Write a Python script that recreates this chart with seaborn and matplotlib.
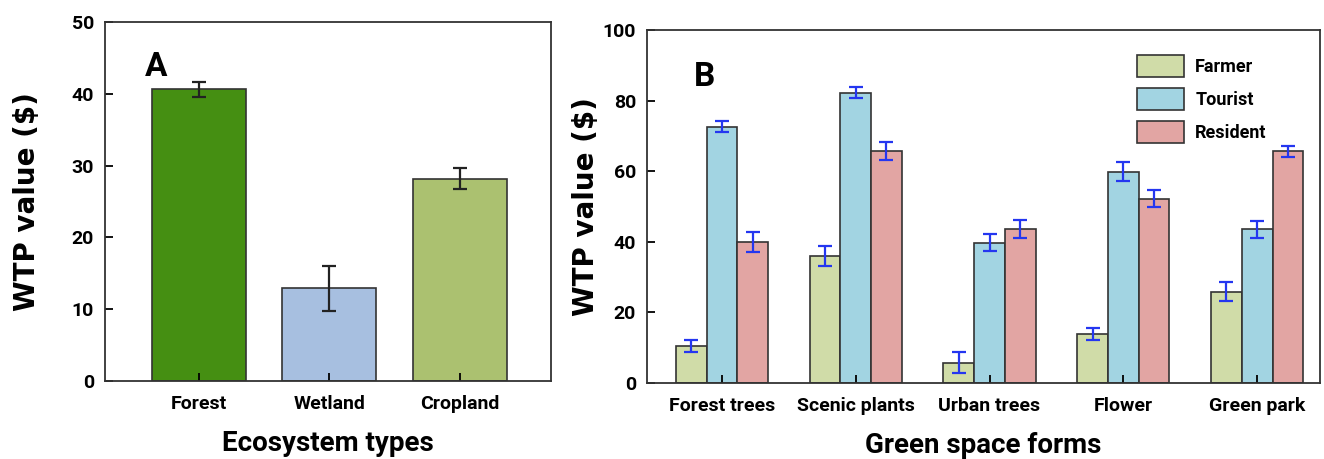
import seaborn as sns
import pandas as pd
import numpy as np
import matplotlib.pyplot as plt

# panel A
eco_types = ['Forest', 'Wetland', 'Cropland']
eco_wtp = [40.6, 12.9, 28.2]
eco_err = [1.1, 3.1, 1.5]
eco_colors = ['#458f12', '#a7bfe0', '#abc170']

# panel B
forms = ['Forest trees', 'Scenic plants', 'Urban trees', 'Flower', 'Green park']
groups = ['Farmer', 'Tourist', 'Resident']
farmer = [10.5, 36.0, 5.8, 14.0, 25.9]
farmer_err = [1.6, 2.8, 2.9, 1.7, 2.8]
tourist = [72.6, 82.2, 39.8, 59.9, 43.5]
tourist_err = [1.6, 1.6, 2.4, 2.8, 2.4]
resident = [39.9, 65.7, 43.6, 52.2, 65.6]
resident_err = [2.8, 2.5, 2.5, 2.4, 1.6]
group_colors = ['#d0dca8', '#a2d4e2', '#e2a5a3']

plt.rcParams['font.family'] = ['Roboto', 'DejaVu Sans']
plt.rcParams['font.weight'] = 'bold'

fig = plt.figure(figsize=(13.24, 4.59), dpi=100)
ax1 = fig.add_axes([105 / 1324, 1 - 381 / 459, 446 / 1324, 359 / 459])
ax2 = fig.add_axes([647 / 1324, 1 - 383 / 459, 673 / 1324, 353 / 459])

# A
dfa = pd.DataFrame({'type': eco_types, 'wtp': eco_wtp})
sns.barplot(data=dfa, x='type', y='wtp', hue='type', palette=eco_colors,
            width=0.72, edgecolor='#333333', linewidth=1.2, saturation=1,
            legend=False, ax=ax1)
ax1.errorbar(range(len(eco_types)), eco_wtp, yerr=eco_err, fmt='none',
             ecolor='#222222', elinewidth=1.6, capsize=5, capthick=1.6)
ax1.set_ylim(0, 50)
ax1.set_xlim(-0.72, 2.70)
ax1.set_yticks(range(0, 51, 10))
ax1.set_ylabel('WTP value ($)', fontsize=20, fontweight='heavy',
               family='DejaVu Sans', labelpad=22)
ax1.set_xlabel('Ecosystem types', fontsize=20, fontweight='bold', labelpad=12)
ax1.text(0.09, 0.85, 'A', transform=ax1.transAxes, fontsize=24, fontweight='bold')

# B
dfb = pd.DataFrame({
    'form': forms * 3,
    'group': [g for g in groups for _ in forms],
    'wtp': farmer + tourist + resident,
    'err': farmer_err + tourist_err + resident_err,
})
sns.barplot(data=dfb, x='form', y='wtp', hue='group', palette=group_colors,
            width=0.69, edgecolor='#333333', linewidth=1.2, saturation=1, ax=ax2)
for cont, g in zip(ax2.containers, groups):
    sub = dfb[dfb['group'] == g]
    xs = [p.get_x() + p.get_width() / 2 for p in cont.patches]
    ax2.errorbar(xs, sub['wtp'], yerr=sub['err'], fmt='none',
                 ecolor='#2436f0', elinewidth=1.6, capsize=5, capthick=1.6)
ax2.set_ylim(0, 100)
ax2.set_xlim(-0.56, 4.47)
ax2.set_yticks(range(0, 101, 20))
ax2.set_ylabel('WTP value ($)', fontsize=20, fontweight='heavy',
               family='DejaVu Sans', labelpad=2)
ax2.set_xlabel('Green space forms', fontsize=20, fontweight='bold', labelpad=12)
ax2.text(0.07, 0.84, 'B', transform=ax2.transAxes, fontsize=24, fontweight='bold')
leg = ax2.legend(loc='upper right', bbox_to_anchor=(0.945, 0.975), frameon=False,
                 fontsize=13, handlelength=2.6, handleheight=1.5, labelspacing=0.6,
                 handletextpad=0.6)
for t in leg.get_texts():
    t.set_fontweight('bold')

for ax in (ax1, ax2):
    ax.tick_params(axis='both', direction='in', length=6, width=1.3,
                   labelsize=14)
    ax.tick_params(axis='x', pad=10)
    ax.tick_params(axis='y', pad=8)
    for lab in ax.get_xticklabels() + ax.get_yticklabels():
        lab.set_fontweight('bold')
    for s in ax.spines.values():
        s.set_linewidth(1.3)
        s.set_color('#333333')

fig.savefig('out.png', dpi=100)
